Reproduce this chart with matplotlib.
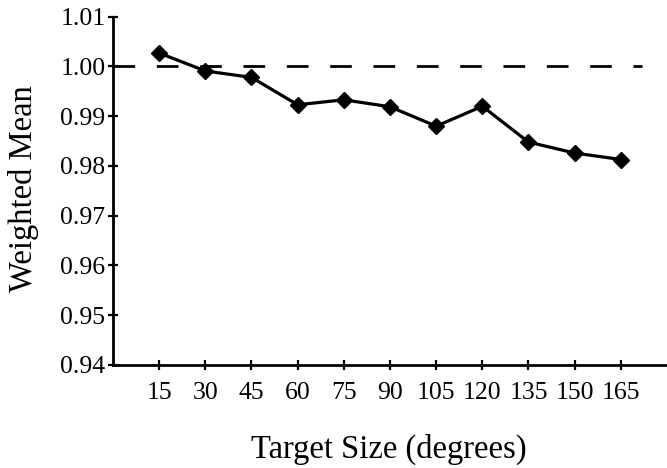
import matplotlib
matplotlib.use("Agg")
import matplotlib.pyplot as plt

plt.rcParams['font.family'] = ['Liberation Serif', 'DejaVu Serif']

# data
target_size = [15, 30, 45, 60, 75, 90, 105, 120, 135, 150, 165]
weighted_mean = [1.0027, 0.9991, 0.9978, 0.9923, 0.9933, 0.9919,
                 0.9880, 0.9920, 0.9848, 0.9826, 0.9813]
y_ticks = [0.94, 0.95, 0.96, 0.97, 0.98, 0.99, 1.00, 1.01]
ref_level = 1.0

fig = plt.figure(figsize=(6.67, 4.68), dpi=100)
ax = fig.add_axes([0.1694, 0.2201, 0.8306, 0.7442])

ax.axhline(ref_level, xmin=0, xmax=172 / 180, color='black', lw=2,
           linestyle=(0, (7.8, 7.8)))
ax.plot(target_size, weighted_mean, color='black', lw=2.3,
        marker='D', markersize=8.5, zorder=3)

ax.set_xlim(0, 180)
ax.set_ylim(0.94, 1.01)
ax.set_xticks(target_size)
ax.set_yticks(y_ticks)
ax.set_yticklabels(['%.2f' % v for v in y_ticks])

for s in ['top', 'right']:
    ax.spines[s].set_visible(False)
for s in ['left', 'bottom']:
    ax.spines[s].set_linewidth(2)

ax.tick_params(axis='both', direction='inout', length=7, width=1.6,
               labelsize=18.5, colors='black')
ax.tick_params(axis='x', pad=9)
ax.tick_params(axis='y', pad=2)

ax.set_xlabel('Target Size (degrees)', fontsize=23.5)
ax.set_ylabel('Weighted Mean', fontsize=23.5)
ax.xaxis.set_label_coords(0.497, -0.197)
ax.yaxis.set_label_coords(-0.133, 0.505)

fig.savefig('out.png', dpi=100)
